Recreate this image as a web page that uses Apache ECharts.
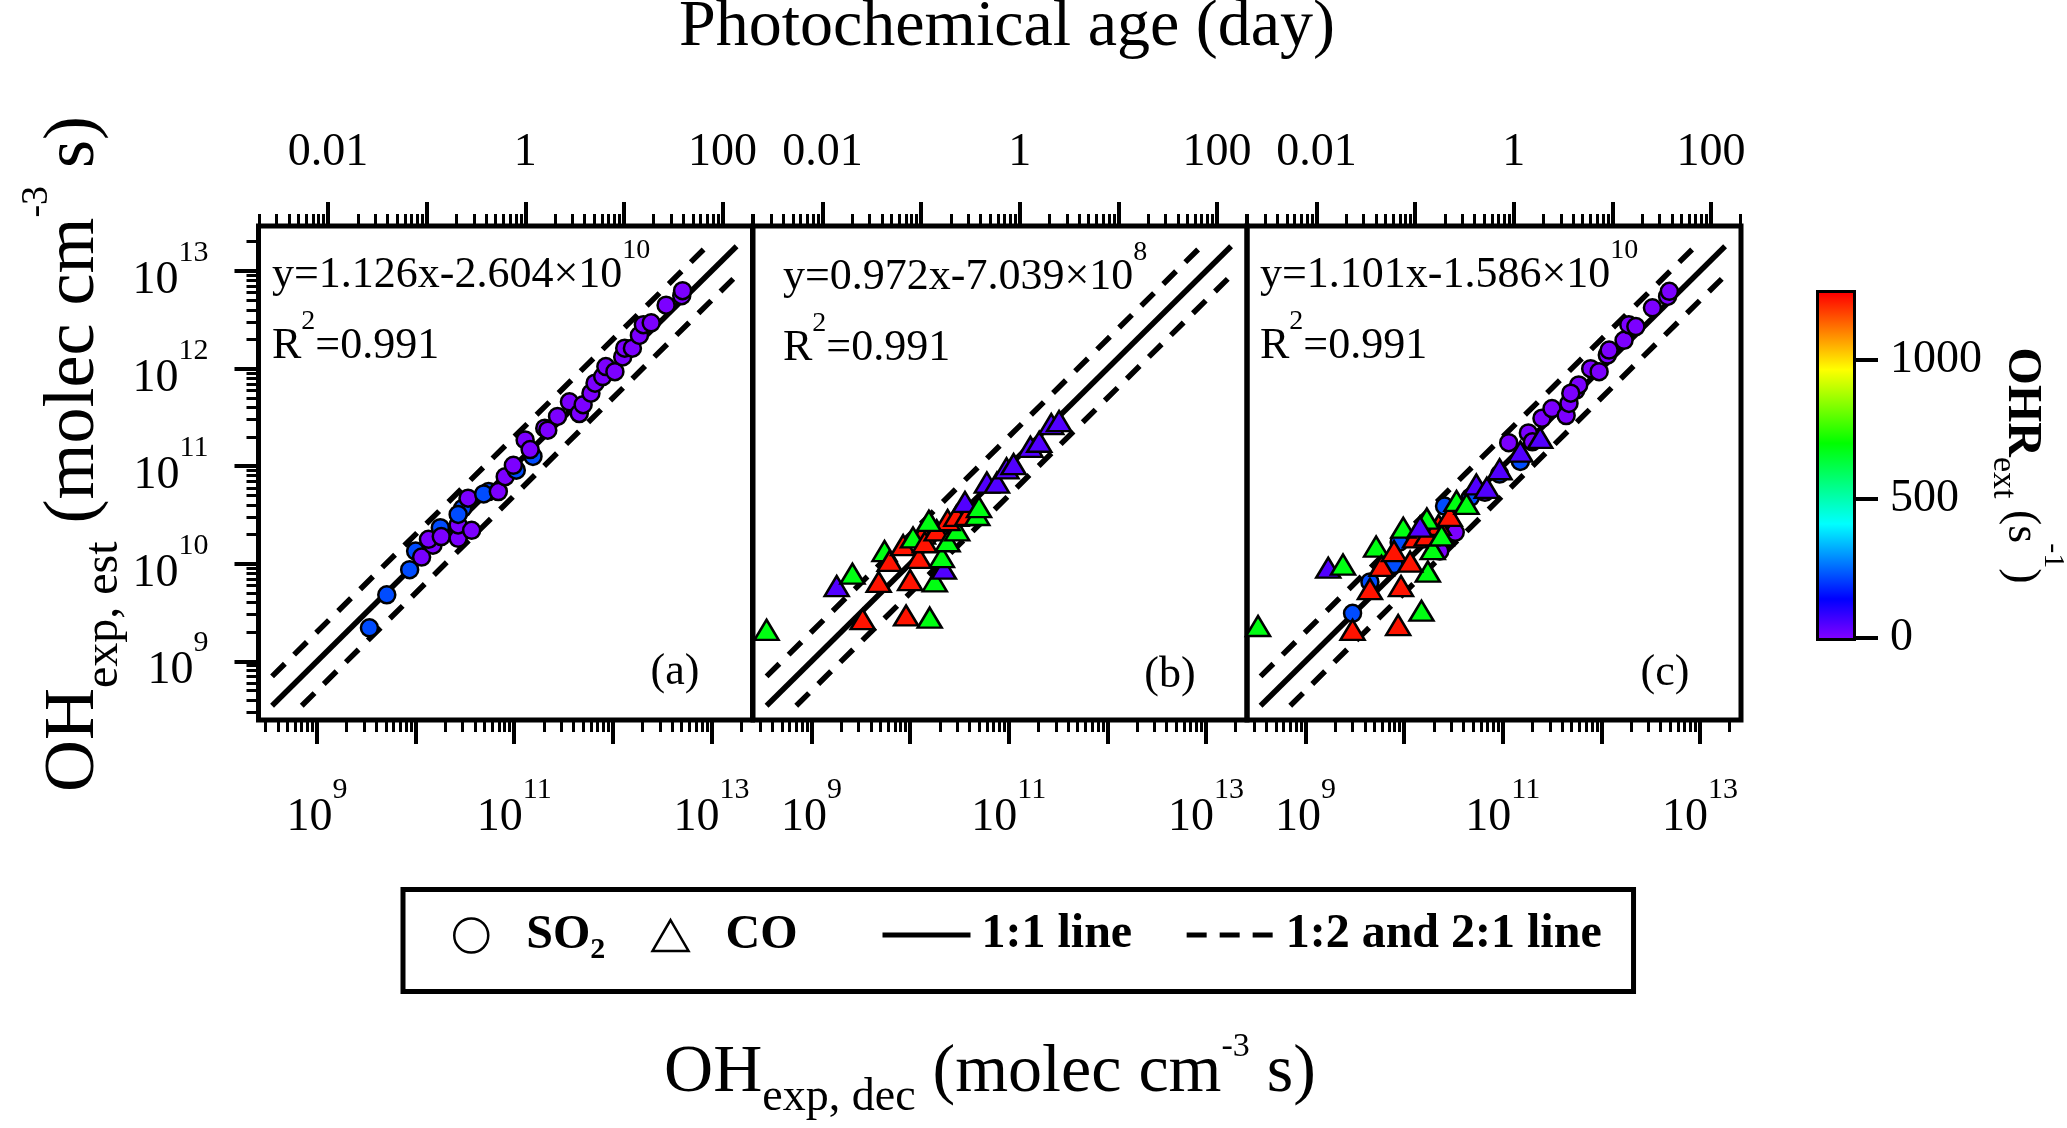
<!DOCTYPE html>
<html>
<head>
<meta charset="utf-8">
<script src="https://cdn.jsdelivr.net/npm/echarts@6/dist/echarts.min.js"></script>
<style>html,body{margin:0;padding:0;background:#fff}#c{width:2067px;height:1128px}</style>
</head>
<body>
<div id="c"></div>
<script>
// ---------------- DATA ----------------
// each point: [OH_exp,dec (molec cm^-3 s), OH_exp,est (molec cm^-3 s), OHR_ext (s^-1)]
const SO2_A = [
  [3.4e9,2.2e9,220],[5.1e9,4.8e9,220],[8.7e9,8.7e9,220],[1.0e10,1.35e10,220],[1.15e10,1.17e10,10],
  [1.5e10,1.55e10,5],[1.35e10,1.78e10,5],[1.78e10,2.34e10,220],[1.82e10,1.9e10,5],[2.7e10,1.82e10,5],
  [2.7e10,2.5e10,5],[3.7e10,2.2e10,5],[3.0e10,3.7e10,220],[2.7e10,3.2e10,220],[3.4e10,4.7e10,5],
  [5.5e10,5.5e10,220],[4.9e10,5.2e10,220],[6.9e10,5.5e10,5],[8.1e10,7.8e10,5],[1.05e11,9.1e10,220],
  [9.8e10,1.02e11,5],[1.29e11,1.86e11,5],[1.55e11,1.26e11,220],[1.45e11,1.48e11,5],[2.04e11,2.45e11,5],
  [2.19e11,2.34e11,5],[2.75e11,3.24e11,5],[3.63e11,4.57e11,5],[4.57e11,3.47e11,5],[5.0e11,4.27e11,5],
  [6.0e11,5.6e11,5],[6.6e11,7.1e11,5],[7.9e11,8.3e11,5],[8.5e11,1.05e12,5],[1.05e12,9.3e11,5],
  [1.26e12,1.32e12,5],[1.32e12,1.62e12,5],[1.58e12,1.62e12,5],[1.86e12,2.19e12,5],[2.04e12,2.82e12,5],
  [2.45e12,2.95e12,5],[3.47e12,4.47e12,5],[5.0e12,5.6e12,5],[5.1e12,6.3e12,5]
];
const CO_B = [
  [3.5e8,2.1e9,680],[3.3e9,2.7e9,1220],[9.1e9,2.95e9,1220],[1.58e10,2.8e9,680],[1.8e9,5.9e9,50],
  [2.6e9,7.9e9,680],[4.8e9,6.5e9,1220],[1.0e10,6.8e9,1220],[1.78e10,6.6e9,680],[5.5e9,1.35e10,680],
  [6.2e9,1.07e10,1220],[8.5e9,1.55e10,1220],[1.23e10,1.15e10,1220],[2.2e10,8.9e9,50],[2.1e10,1.17e10,680],
  [1.35e10,2.04e10,1220],[1.07e10,1.86e10,680],[1.41e10,1.66e10,1220],[1.86e10,2.2e10,1220],[2.4e10,1.7e10,680],
  [3.0e10,2.2e10,680],[2.4e10,2.8e10,1220],[2.95e10,3.1e10,1220],[3.8e10,3.16e10,1220],[3.6e10,4.3e10,50],
  [4.8e10,3.16e10,680],[5.0e10,3.8e10,680],[6.0e10,6.8e10,50],[7.6e10,6.8e10,50],[9.5e10,9.5e10,50],
  [1.12e11,1.05e11,50],[1.66e11,1.58e11,50],[2.04e11,1.78e11,50],[2.7e11,2.7e11,50],[3.24e11,2.9e11,50],
  [1.55e10,2.75e10,680]
];
const SO2_C = [
  [3.0e9,3.1e9,220],[4.5e9,6.5e9,220],[7.9e9,9.8e9,220],[8.9e9,1.66e10,220],[2.57e10,3.9e10,220],
  [2.5e10,1.74e10,5],[3.3e10,2.1e10,5],[2.3e10,1.35e10,5],[4.7e10,4.8e10,220],[6.6e10,5.4e10,5],
  [9.3e10,8.3e10,220],[1.15e11,1.74e11,5],[1.51e11,1.12e11,220],[1.82e11,2.19e11,5],[2.5e11,3.1e11,5],
  [3.16e11,3.9e11,5],[4.4e11,3.3e11,5],[4.7e11,4.4e11,5],[5.5e11,6.0e11,5],[5.9e11,6.8e11,5],
  [7.8e11,1.0e12,5],[9.5e11,9.3e11,5],[1.15e12,1.38e12,5],[1.2e12,1.55e12,5],[1.7e12,1.95e12,5],
  [1.9e12,2.82e12,5],[2.24e12,2.7e12,5],[3.3e12,4.2e12,5],[4.7e12,5.5e12,5],[4.9e12,6.2e12,5],
  [4.9e11,5.6e11,5],[2.0e11,1.78e11,5]
];
const CO_C = [
  [3.3e8,2.3e9,680],[3.0e9,2.1e9,1220],[8.7e9,2.35e9,1220],[1.5e10,3.3e9,680],[1.7e9,9.1e9,50],
  [2.4e9,9.8e9,680],[4.5e9,5.5e9,1220],[9.3e9,5.9e9,1220],[1.74e10,8.3e9,680],[5.2e9,1.5e10,680],
  [5.9e9,9.5e9,1220],[7.9e9,1.35e10,1220],[1.15e10,1.05e10,1220],[1.95e10,1.41e10,680],[1.29e10,1.86e10,1220],
  [9.8e9,2.34e10,680],[1.7e10,1.95e10,1220],[2.24e10,2.5e10,1220],[1.7e10,2.9e10,680],[2.4e10,1.95e10,680],
  [2.9e10,3.1e10,1220],[3.4e10,4.4e10,680],[4.3e10,4.1e10,680],[5.4e10,6.5e10,50],[6.9e10,6.0e10,50],
  [9.3e10,9.3e10,50],[1.51e11,1.41e11,50],[2.4e11,1.95e11,50],[1.45e10,2.4e10,50]
];
// reference lines (end points)
const ONE_TO_ONE = [[3.5e8,3.5e8],[1.8e13,1.8e13]];
const TWO_TO_ONE = [[3.5e8,7.0e8],[9.0e12,1.8e13]];
const ONE_TO_TWO = [[7.0e8,3.5e8],[1.8e13,9.0e12]];
// axes
const X_RANGE = [2.55e8, 2.61e13];
const Y_RANGE = [2.5e8, 2.9e13];
const OH_MAJOR_TICKS = [1e9, 1e10, 1e11, 1e12, 1e13];
const OH_X_LABELS = [1e9, 1e11, 1e13];
const OH_Y_LABELS = [1e9, 1e10, 1e11, 1e12, 1e13];
const OH_CONC = 1.5e6;          // molec cm^-3 used for photochemical age
const SEC_PER_DAY = 86400;
const DAY_MAJOR_TICKS = [0.01, 0.1, 1, 10, 100];
const DAY_LABEL_VALUES = [0.01, 1, 100];
const DAY_LABEL_TEXT = ['0.01', '1', '100'];
const OHR_RANGE = [0, 1240];
const OHR_MAJOR_TICKS = [0, 500, 1000];
const OHR_MINOR_TICKS = [100, 200, 300, 400, 600, 700, 800, 900, 1100, 1200];
// annotations
const EQ_SLOPE = ['1.126', '0.972', '1.101'];
const EQ_INTERCEPT = ['2.604', '7.039', '1.586'];
const EQ_EXP = ['10', '8', '10'];
const R2 = ['0.991', '0.991', '0.991'];
const PANEL_TAGS = ['(a)', '(b)', '(c)'];

// ---------------- STYLE ----------------
const SERIF = '"Liberation Serif", "Times New Roman", serif';
const TICK_FONT = 46;
const LINE_W = 5.5;
const DASH = [18, 13];
const PANEL_LEFT = [258.5, 753, 1247];
const PANEL_TOP = 226, PANEL_W = 494, PANEL_H = 494;
const CMAP = [[0,'#8000ff'],[140,'#0000ff'],[410,'#00ffff'],[700,'#00ff00'],[965,'#ffff00'],[1240,'#ff0000']];

function hexRgb(h){ return [parseInt(h.substr(1,2),16), parseInt(h.substr(3,2),16), parseInt(h.substr(5,2),16)]; }
function cmapAt(v){
  for (let i = 1; i < CMAP.length; i++) {
    if (v <= CMAP[i][0]) {
      const a = CMAP[i-1], b = CMAP[i];
      const t = (v - a[0]) / (b[0] - a[0]);
      const ca = hexRgb(a[1]), cb = hexRgb(b[1]);
      return 'rgb(' + ca.map((c, k) => Math.round(c + (cb[k] - c) * t)).join(',') + ')';
    }
  }
  return CMAP[CMAP.length-1][1];
}
const VM_COLORS = [];
for (let v = OHR_RANGE[0]; v <= OHR_RANGE[1] + 1e-9; v += 20) VM_COLORS.push(cmapAt(v));

function minorLog(lo, hi){
  const out = [];
  for (let n = Math.floor(Math.log10(lo)); n <= Math.ceil(Math.log10(hi)); n++)
    for (let k = 2; k <= 9; k++) { const v = k * Math.pow(10, n); if (v >= lo && v <= hi) out.push(v); }
  return out;
}
const OH_PER_DAY = OH_CONC * SEC_PER_DAY;
const DAY_RANGE = X_RANGE.map(v => v / OH_PER_DAY);

const SUP_RICH = {
  b: {fontFamily: SERIF, fontSize: TICK_FONT, lineHeight: TICK_FONT, verticalAlign: 'bottom', color: '#000'},
  s: {fontFamily: SERIF, fontSize: 30, lineHeight: 30, verticalAlign: 'bottom', padding: [0,0,36,0], color: '#000'}
};
const powLabel = v => '{b|10}{s|' + Math.round(Math.log10(v)) + '}';
const dayLabel = v => {
  for (let i = 0; i < DAY_LABEL_VALUES.length; i++)
    if (Math.abs(Math.log10(v) - Math.log10(DAY_LABEL_VALUES[i])) < 1e-6) return DAY_LABEL_TEXT[i];
  return '';
};
function tick(kind, values){
  if (!values) return {show: false};
  return {show: true, inside: false, customValues: values, length: kind === 'major' ? 24 : 12,
          lineStyle: {color: '#000', width: kind === 'major' ? 4 : 3}};
}
function axis(o){
  const a = {
    type: o.type || 'log', gridIndex: o.grid, position: o.pos, min: o.range[0], max: o.range[1],
    show: o.show !== false,
    axisLine: {show: false}, splitLine: {show: false}, minorTick: {show: false}, minorSplitLine: {show: false},
    axisTick: tick(o.kind, o.ticks),
    axisLabel: o.labels ? {show: true, customValues: o.labels, formatter: o.fmt, margin: o.margin,
      padding: o.labelPadding || 0,
      fontFamily: SERIF, fontSize: TICK_FONT, lineHeight: TICK_FONT, color: '#000', rich: o.rich} : {show: false}
  };
  if (o.type !== 'value' && o.type !== 'category') a.logBase = 10;
  if (o.name) {
    a.name = o.name; a.nameLocation = 'middle'; a.nameGap = o.nameGap;
    if (o.nameRotate !== undefined) a.nameRotate = o.nameRotate;
    a.nameTextStyle = o.nameTextStyle;
  }
  return a;
}

const BOTTOM_TITLE = '{m|OH}{sub|exp, dec}{m| (molec cm}{sup|-3}{m| s)}';
const LEFT_TITLE = '{m|OH}{sub|exp, est}{m| (molec cm}{sup|-3}{m| s)}';
const TOP_TITLE = 'Photochemical age (day)';
const CBAR_TITLE = '{b|OHR}{sub|ext}{r| (s}{sup|-1}{r|)}';

const grids = [], xAxes = [], yAxes = [];
for (let i = 0; i < 3; i++) {
  const box = {left: PANEL_LEFT[i], top: PANEL_TOP, width: PANEL_W, height: PANEL_H, outerBoundsMode: 'none', containLabel: false};
  grids.push(Object.assign({show: true, borderColor: '#000', borderWidth: 5, backgroundColor: 'transparent'}, box));
  grids.push(Object.assign({show: false}, box));
  const g = 2 * i;
  xAxes.push(axis({grid: g, pos: 'bottom', range: X_RANGE, kind: 'major', ticks: OH_MAJOR_TICKS,
    labels: OH_X_LABELS, fmt: powLabel, rich: SUP_RICH, margin: 75,
    name: i === 1 ? BOTTOM_TITLE : null, nameGap: 310,
    nameTextStyle: {fontFamily: SERIF, color: '#000', fontSize: 68, padding: [0, 20, 0, 0], rich: {
      m: {fontFamily: SERIF, fontSize: 68, lineHeight: 68, verticalAlign: 'top', padding: [9,0,0,0], color: '#000'},
      sub: {fontFamily: SERIF, fontSize: 46, lineHeight: 46, verticalAlign: 'top', padding: [44.6,0,0,0], color: '#000'},
      sup: {fontFamily: SERIF, fontSize: 34, lineHeight: 34, verticalAlign: 'top', color: '#000'}}}}));
  xAxes.push(axis({grid: g, pos: 'top', range: DAY_RANGE, kind: 'major', ticks: DAY_MAJOR_TICKS,
    labels: DAY_LABEL_VALUES, fmt: dayLabel, margin: 50,
    name: i === 1 ? TOP_TITLE : null, nameGap: 165,
    nameTextStyle: {fontFamily: SERIF, color: '#000', fontSize: 66, lineHeight: 66, padding: [0, 0, 0, 14]}}));
  xAxes.push(axis({grid: g + 1, pos: 'bottom', range: X_RANGE, kind: 'minor', ticks: minorLog(X_RANGE[0], X_RANGE[1])}));
  xAxes.push(axis({grid: g + 1, pos: 'top', range: DAY_RANGE, kind: 'minor', ticks: minorLog(DAY_RANGE[0], DAY_RANGE[1])}));
  if (i === 0) {
    yAxes.push(axis({grid: g, pos: 'left', range: Y_RANGE, kind: 'major', ticks: OH_MAJOR_TICKS,
      labels: OH_Y_LABELS, fmt: powLabel, rich: SUP_RICH, margin: 50, labelPadding: [20, 0, 0, 0],
      name: LEFT_TITLE, nameGap: 168, nameRotate: 90,
      nameTextStyle: {fontFamily: SERIF, color: '#000', fontSize: 72, padding: [0, 0, 0, 38], rich: {
        m: {fontFamily: SERIF, fontSize: 72, lineHeight: 72, verticalAlign: 'top', padding: [20,0,0,0], color: '#000'},
        sub: {fontFamily: SERIF, fontSize: 48, lineHeight: 48, verticalAlign: 'top', padding: [62,0,0,0], color: '#000'},
        sup: {fontFamily: SERIF, fontSize: 38, lineHeight: 38, verticalAlign: 'top', color: '#000'}}}}));
    yAxes.push(axis({grid: g + 1, pos: 'left', range: Y_RANGE, kind: 'minor', ticks: minorLog(Y_RANGE[0], Y_RANGE[1])}));
  } else {
    yAxes.push(axis({grid: g, pos: 'left', range: Y_RANGE}));
    yAxes.push(axis({grid: g + 1, pos: 'left', range: Y_RANGE, show: false}));
  }
}
// colour bar grids
const CBAR_BOX = {left: 1819, top: 293, width: 34, height: 345, outerBoundsMode: 'none', containLabel: false};
grids.push(Object.assign({show: true, borderColor: '#000', borderWidth: 6, backgroundColor: 'transparent'}, CBAR_BOX));
grids.push(Object.assign({show: false}, CBAR_BOX));
xAxes.push({type: 'category', gridIndex: 6, data: ['OHR'], show: false, boundaryGap: true});
xAxes.push({type: 'value', gridIndex: 7, show: false, min: 0, max: 1});
yAxes.push(axis({type: 'value', grid: 6, pos: 'right', range: OHR_RANGE, kind: 'major', ticks: OHR_MAJOR_TICKS,
  labels: OHR_MAJOR_TICKS, fmt: v => String(v), margin: 37,
  name: CBAR_TITLE, nameGap: 135, nameRotate: -90,
  nameTextStyle: {fontFamily: SERIF, color: '#000', fontSize: 46, rich: {
    b: {fontFamily: SERIF, fontSize: 48, fontWeight: 'bold', lineHeight: 48, verticalAlign: 'top', padding: [22.5,0,0,0], color: '#000'},
    sub: {fontFamily: SERIF, fontSize: 34, lineHeight: 34, verticalAlign: 'top', padding: [48,0,0,0], color: '#000'},
    r: {fontFamily: SERIF, fontSize: 46, lineHeight: 46, verticalAlign: 'top', padding: [23.5,0,0,0], color: '#000'},
    sup: {fontFamily: SERIF, fontSize: 30, lineHeight: 30, verticalAlign: 'top', color: '#000'}}}}));
yAxes[yAxes.length - 1].axisTick.length = 25;
yAxes.push(axis({type: 'value', grid: 7, pos: 'right', range: OHR_RANGE, kind: 'minor', ticks: OHR_MINOR_TICKS}));
yAxes[yAxes.length - 1].axisTick.length = 14;

// ---------------- SERIES ----------------
const PANEL_SETS = [
  [{name: 'SO2', data: SO2_A, symbol: 'circle'}],
  [{name: 'CO', data: CO_B, symbol: 'triangle'}],
  [{name: 'SO2', data: SO2_C, symbol: 'circle'}, {name: 'CO', data: CO_C, symbol: 'triangle'}]
];
const series = [], scatterIdx = [];
PANEL_SETS.forEach((sets, i) => {
  const xi = 4 * i, yi = 2 * i;
  const lineBase = {type: 'line', xAxisIndex: xi, yAxisIndex: yi, symbol: 'none', silent: true, z: 2, animation: false};
  series.push(Object.assign({}, lineBase, {name: '1:1 line', data: ONE_TO_ONE,
    lineStyle: {color: '#000', width: LINE_W, type: 'solid', cap: 'butt'}}));
  series.push(Object.assign({}, lineBase, {name: '1:2 and 2:1 line', data: TWO_TO_ONE,
    lineStyle: {color: '#000', width: LINE_W, type: DASH, cap: 'butt'}}));
  series.push(Object.assign({}, lineBase, {name: '1:2 and 2:1 line', data: ONE_TO_TWO,
    lineStyle: {color: '#000', width: LINE_W, type: DASH, cap: 'butt'}}));
  sets.forEach(s => {
    scatterIdx.push(series.length);
    series.push({type: 'scatter', name: s.name, xAxisIndex: xi, yAxisIndex: yi, data: s.data,
      symbol: s.symbol, symbolSize: s.symbol === 'circle' ? 17 : [24, 20], z: 3,
      itemStyle: {borderColor: '#000', borderWidth: 2.5, opacity: 1}, emphasis: {disabled: true}});
  });
});
series.push({type: 'bar', name: 'OHR colour bar', xAxisIndex: 12, yAxisIndex: 6, data: [OHR_RANGE[1]],
  barWidth: '100%', silent: true,
  itemStyle: {color: new echarts.graphic.LinearGradient(0, 1, 0, 0,
    CMAP.map(c => ({offset: (c[0] - OHR_RANGE[0]) / (OHR_RANGE[1] - OHR_RANGE[0]), color: c[1]})))}});

// ---------------- ANNOTATIONS ----------------
const EQ_X = [272, 783, 1260], EQ_TOP = [253, 255, 253];
const TAG_POS = [[675, 672], [1170, 675], [1665, 673]];
const EQ_RICH = {
  b: {fontFamily: SERIF, fontSize: 44, lineHeight: 44, verticalAlign: 'bottom', fill: '#000', color: '#000'},
  s: {fontFamily: SERIF, fontSize: 28, lineHeight: 28, verticalAlign: 'bottom', padding: [0,0,32,0], fill: '#000', color: '#000'}
};
const graphic = [];
for (let i = 0; i < 3; i++) {
  graphic.push({type: 'text', x: EQ_X[i], y: EQ_TOP[i], silent: true, style: {
    text: '{b|y=' + EQ_SLOPE[i] + 'x-' + EQ_INTERCEPT[i] + '×10}{s|' + EQ_EXP[i] + '}',
    rich: EQ_RICH, verticalAlign: 'top', align: 'left', fill: '#000'}});
  graphic.push({type: 'text', x: EQ_X[i], y: EQ_TOP[i] + 71, silent: true, style: {
    text: '{b|R}{s|2}{b|=' + R2[i] + '}', rich: EQ_RICH, verticalAlign: 'top', align: 'left', fill: '#000'}});
  graphic.push({type: 'text', x: TAG_POS[i][0], y: TAG_POS[i][1], silent: true, style: {
    text: PANEL_TAGS[i], fontFamily: SERIF, fontSize: 44, fill: '#000', align: 'center', verticalAlign: 'middle'}});
}

// ---------------- LEGENDS ----------------
const LEG_FONT = 48;
const LEG_TEXT = {
  'SO2': '{t|SO}{sub|2}',
  'CO': '{t|CO}',
  '1:1 line': '{t|1:1 line}',
  '1:2 and 2:1 line': '{t|1:2 and 2:1 line}'
};
function legRich(padLeft){
  return {
    t: {fontFamily: SERIF, fontSize: LEG_FONT, fontWeight: 'bold', lineHeight: LEG_FONT, verticalAlign: 'top', padding: [0,0,0,padLeft], color: '#000'},
    sub: {fontFamily: SERIF, fontSize: 30, fontWeight: 'bold', lineHeight: 30, verticalAlign: 'top', padding: [24,0,0,0], color: '#000'}
  };
}
const HOLLOW = {color: '#fff', borderColor: '#000', borderWidth: 2.5};
const NO_SYMBOL = {color: 'transparent', borderColor: 'transparent', borderWidth: 0};
const legends = [
  { // marker legend + surrounding frame
    z: 4, left: 403, top: 889.5, orient: 'horizontal', padding: [22, 836, 26, 50],
    borderColor: '#000', borderWidth: 5, borderRadius: 0, backgroundColor: '#fff',
    itemWidth: 36, itemHeight: 34, itemGap: 46, selectedMode: false,
    textStyle: {fontFamily: SERIF, fontSize: LEG_FONT, fontWeight: 'bold', color: '#000', rich: legRich(32)},
    formatter: name => LEG_TEXT[name] || name,
    data: [
      {name: 'SO2', icon: 'circle', itemStyle: HOLLOW},
      {name: 'CO', icon: 'path://M21,0L42,36L0,36Z', itemStyle: HOLLOW}
    ]
  },
  { // line legend
    z: 5, left: 880, top: 911, orient: 'horizontal', padding: 0,
    borderWidth: 0, backgroundColor: 'transparent',
    itemWidth: 88, itemHeight: 34, itemGap: 52, selectedMode: false,
    textStyle: {fontFamily: SERIF, fontSize: LEG_FONT, fontWeight: 'bold', color: '#000', rich: legRich(6)},
    formatter: name => LEG_TEXT[name] || name,
    data: [
      {name: '1:1 line', itemStyle: NO_SYMBOL, lineStyle: {color: '#000', width: 5, type: 'solid', cap: 'butt'}},
      {name: '1:2 and 2:1 line', itemStyle: NO_SYMBOL, lineStyle: {color: '#000', width: 5, type: [20, 13], cap: 'butt'}}
    ]
  }
];

const option = {
  animation: false,
  backgroundColor: '#fff',
  textStyle: {fontFamily: SERIF},
  grid: grids, xAxis: xAxes, yAxis: yAxes,
  visualMap: {type: 'continuous', show: false, min: OHR_RANGE[0], max: OHR_RANGE[1], dimension: 2,
    seriesIndex: scatterIdx, inRange: {color: VM_COLORS}},
  legend: legends,
  graphic: graphic,
  series: series
};
const chart = echarts.init(document.getElementById('c'), null, {renderer: 'canvas', width: 2067, height: 1128});
chart.setOption(option);
</script>
</body>
</html>
